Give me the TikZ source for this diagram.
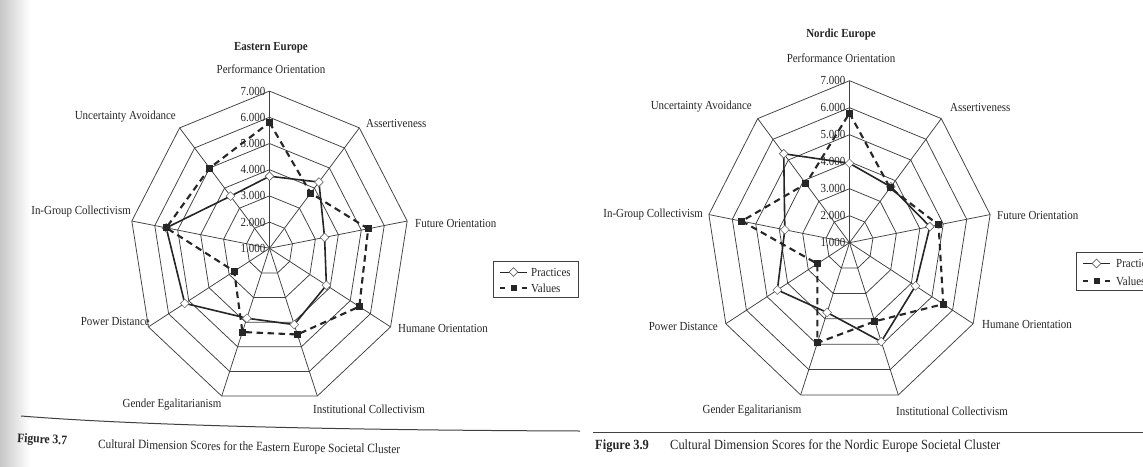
\documentclass[tikz,border=0pt]{standalone}
\usepackage{fontspec}
\setmainfont{Liberation Serif}[FakeStretch=0.89]
\usetikzlibrary{shapes.geometric}
\definecolor{ink}{HTML}{262626}
\definecolor{gridink}{HTML}{404040}
\newcommand\lblfont{\fontsize{12.3}{14}\selectfont}
\tikzset{
  gridline/.style={draw=gridink, line width=0.75pt, line join=round},
  practline/.style={draw=ink, line width=1.6pt, line join=round},
  valline/.style={draw=ink, line width=2.1pt, dash pattern=on 6.5pt off 4.5pt},
  diamondmark/.style={diamond, aspect=1, draw=black!60, fill=white, line width=0.6pt, minimum size=9pt, inner sep=0pt},
  squaremark/.style={rectangle, fill=ink, minimum size=7pt, inner sep=0pt},
  lbl/.style={font=\lblfont, text=ink, inner sep=0pt},
  scalelbl/.style={font=\lblfont, text=ink, inner sep=0pt, anchor=east},
  ttl/.style={font=\lblfont\bfseries, text=ink, inner sep=0pt},
  legbox/.style={draw=gridink, line width=0.7pt},
  rule/.style={draw=gridink, line width=1pt},
}
% #1 tag, #2 cx, #3 cy, #4 px per unit (x), #5 px per unit (y), #6 practices, #7 values
\newcommand\radar[7]{%
  \coordinate (#1c) at (#2,#3);
  \foreach \u in {1,...,6}{
    \draw[gridline] ({#2},{#3-\u*#5}) \foreach \k in {1,...,8}{ -- ({#2+\u*#4*cos(90-40*\k)},{#3-\u*#5*sin(90-40*\k)}) } -- cycle;
  }
  \foreach \k in {0,...,8}{
    \coordinate (#1o\k) at ({#2+6*#4*cos(90-40*\k)},{#3-6*#5*sin(90-40*\k)});
    \draw[gridline] (#1c) -- (#1o\k);
  }
  \foreach \n in {1,...,7}{
    \node[scalelbl] (#1s\n) at ({#2-4},{#3-(\n-1)*#5}) {\n.000};
  }
  \foreach \v [count=\k from 0] in {#6}{
    \coordinate (#1p\k) at ({#2+(\v-1)*#4*cos(90-40*\k)},{#3-(\v-1)*#5*sin(90-40*\k)});
  }
  \foreach \v [count=\k from 0] in {#7}{
    \coordinate (#1v\k) at ({#2+(\v-1)*#4*cos(90-40*\k)},{#3-(\v-1)*#5*sin(90-40*\k)});
  }
  \draw[practline] (#1p0) -- (#1p1) -- (#1p2) -- (#1p3) -- (#1p4) -- (#1p5) -- (#1p6) -- (#1p7) -- (#1p8) -- cycle;
  \draw[valline] (#1v0) -- (#1v1) -- (#1v2) -- (#1v3) -- (#1v4) -- (#1v5) -- (#1v6) -- (#1v7) -- (#1v8) -- cycle;
  \foreach \k in {0,...,8}{ \node[diamondmark] (#1pm\k) at (#1p\k) {}; }
  \foreach \k in {0,...,8}{ \node[squaremark] (#1vm\k) at (#1v\k) {}; }
}
\begin{document}
\begin{tikzpicture}[x=1pt,y=-1pt]
\useasboundingbox (0,0) rectangle (1143,466);
\clip (0,0) rectangle (1143,466);
\fill[white] (0,0) rectangle (1143,466);
\shade[left color=black!22, right color=white] (0,0) rectangle (30,466);

% ---------------- Eastern Europe ----------------
\radar{E}{269.5}{248.3}{23.3}{26.2}
  {3.75,4.3,3.4,3.82,4.1,3.84,5.2,5.5,3.6}
  {5.8,3.75,5.3,5.45,4.5,4.4,2.75,5.5,5.0}
\node[ttl] (Etitle) at (271,48) {Eastern Europe};
\node[lbl] (Epo) at (271,69) {Performance Orientation};
\node[lbl, anchor=east] (Eua) at (176,117) {Uncertainty Avoidance};
\node[lbl, anchor=west] (Eas) at (366,123) {Assertiveness};
\node[lbl, anchor=east] (Eig) at (131,212) {In-Group Collectivism};
\node[lbl, anchor=west] (Efo) at (415,223) {Future Orientation};
\node[lbl, anchor=west] (Eho) at (398,328) {Humane Orientation};
\node[lbl, anchor=east] (Epd) at (150,321) {Power Distance};
\node[lbl] (Ege) at (172,405) {Gender Egalitarianism};
\node[lbl] (Eic) at (369,409) {Institutional Collectivism};

% legend
\draw[legbox] (493,261) rectangle (578,297);
\coordinate (ELa) at (500,272); \coordinate (ELb) at (527,272);
\draw[ink, line width=1pt] (ELa) -- (ELb);
\node[diamondmark] (ELd) at (513.5,272) {};
\node[lbl, anchor=west] (ELp) at (531,272) {Practices};
\coordinate (ELc) at (500,288); \coordinate (ELe) at (505,288);
\coordinate (ELf) at (522,288); \coordinate (ELg) at (527,288);
\draw[ink, line width=1.2pt] (ELc) -- (ELe) (ELf) -- (ELg);
\node[squaremark, minimum size=6pt] (ELs) at (513.5,288) {};
\node[lbl, anchor=west] (ELv) at (531,288) {Values};

% caption
\coordinate (ER1) at (21,416); \coordinate (ER2) at (580,431);
\draw[rule] (ER1) .. controls (120,424) and (300,430) .. (ER2);
\node[font=\fontsize{13}{15}\selectfont\bfseries, text=ink, anchor=west, rotate=-3, inner sep=0pt] (Efig) at (17,439) {Figure 3.7};
\node[font=\fontsize{12.7}{15}\selectfont, text=ink, anchor=west, rotate=-1, inner sep=0pt] (Ecap) at (98,445) {Cultural Dimension Scores for the Eastern Europe Societal Cluster};

% ---------------- Nordic Europe ----------------
\radar{N}{849.5}{242.7}{23.8}{27}
  {3.94,3.7,4.43,4.2,4.9,3.75,4.5,3.76,5.3}
  {5.8,3.65,4.8,5.55,4.1,4.95,2.56,5.6,3.85}
\node[ttl] (Ntitle) at (841,35) {Nordic Europe};
\node[lbl] (Npo) at (841,58) {Performance Orientation};
\node[lbl, anchor=east] (Nua) at (752,107) {Uncertainty Avoidance};
\node[lbl, anchor=west] (Nas) at (950,107) {Assertiveness};
\node[lbl, anchor=east] (Nig) at (703,215) {In-Group Collectivism};
\node[lbl, anchor=west] (Nfo) at (997,215) {Future Orientation};
\node[lbl, anchor=west] (Nho) at (982,324) {Humane Orientation};
\node[lbl, anchor=east] (Npd) at (718,326) {Power Distance};
\node[lbl] (Nge) at (752,411) {Gender Egalitarianism};
\node[lbl, anchor=west] (Nic) at (896,411) {Institutional Collectivism};

% legend (runs off the right edge of the page)
\draw[legbox] (1076,252) rectangle (1165,290);
\coordinate (NLa) at (1083,263.5); \coordinate (NLb) at (1110,263.5);
\draw[ink, line width=1pt] (NLa) -- (NLb);
\node[diamondmark] (NLd) at (1096.5,263.5) {};
\node[lbl, anchor=west] (NLp) at (1116,263.5) {Practices};
\coordinate (NLc) at (1083,281); \coordinate (NLe) at (1088,281);
\coordinate (NLf) at (1105,281); \coordinate (NLg) at (1110,281);
\draw[ink, line width=1.2pt] (NLc) -- (NLe) (NLf) -- (NLg);
\node[squaremark, minimum size=6pt] (NLs) at (1096.5,281) {};
\node[lbl, anchor=west] (NLv) at (1116,281) {Values};

% caption
\coordinate (NR1) at (593,432); \coordinate (NR2) at (1143,432);
\draw[rule] (NR1) -- (NR2);
\node[font=\fontsize{14}{16}\selectfont\bfseries, text=ink, anchor=west, inner sep=0pt] (Nfig) at (595,446) {Figure 3.9};
\node[font=\fontsize{14}{16}\selectfont, text=ink, anchor=west, inner sep=0pt] (Ncap) at (670,446) {Cultural Dimension Scores for the Nordic Europe Societal Cluster};
\end{tikzpicture}
\end{document}
